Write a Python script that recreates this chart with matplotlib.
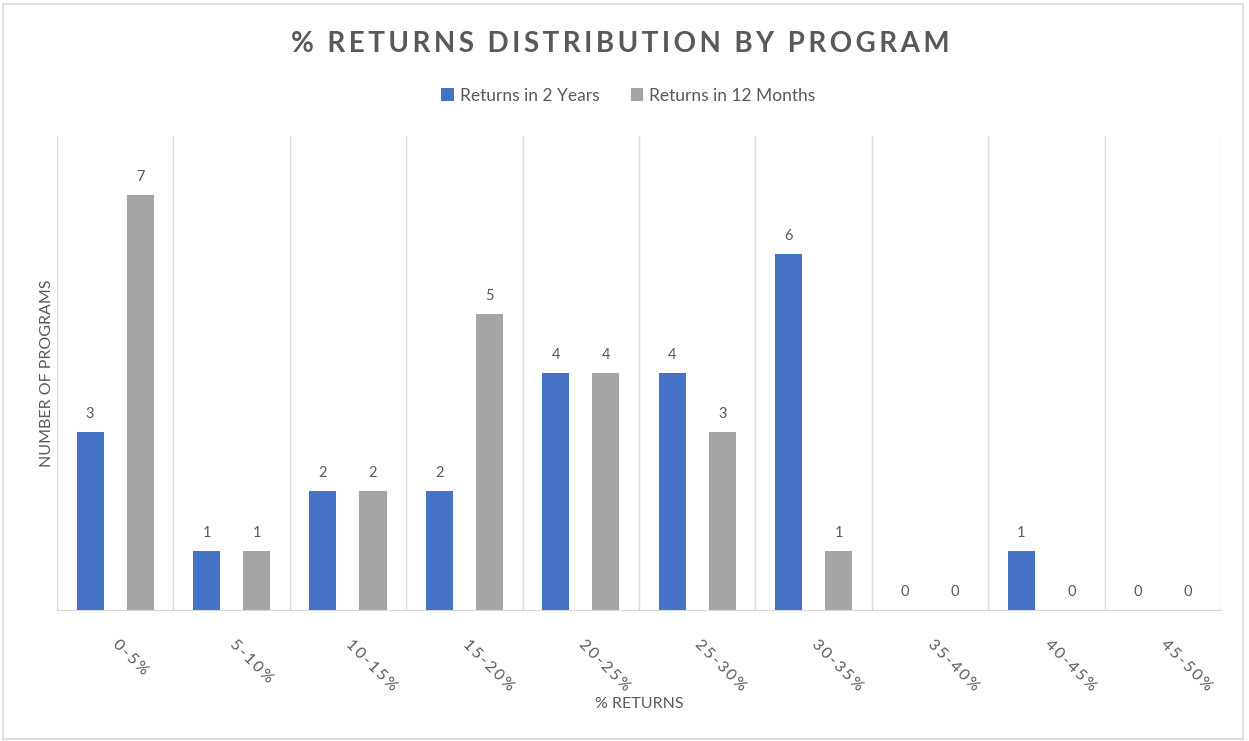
import matplotlib.pyplot as plt
from matplotlib.patches import Rectangle
import numpy as np

plt.rcParams['font.family'] = ['Lato', 'DejaVu Sans']

ranges = ["0-5%", "5-10%", "10-15%", "15-20%", "20-25%",
          "25-30%", "30-35%", "35-40%", "40-45%", "45-50%"]
returns_2y = [3, 1, 2, 2, 4, 4, 6, 0, 1, 0]
returns_12m = [7, 1, 2, 5, 4, 3, 1, 0, 0, 0]

blue = "#4472C4"
grey = "#A5A5A5"
txt = "#595959"
line = "#D9D9D9"

fig = plt.figure(figsize=(12.49, 7.41), dpi=100)
ax = fig.add_axes([0.0456, 0.1768, 0.932, 0.6397])

x = np.arange(len(ranges))
w = 0.232
b1 = ax.bar(x - 0.215, returns_2y, w, color=blue, label="Returns in 2 Years")
b2 = ax.bar(x + 0.215, returns_12m, w, color=grey, label="Returns in 12 Months")
ax.bar_label(b1, padding=8, color=txt, fontsize=10.5)
ax.bar_label(b2, padding=8, color=txt, fontsize=10.5)

ax.set_xlim(-0.5, len(ranges) - 0.5)
ax.set_ylim(0, 8)
ax.set_yticks([])

# category separators
for b in np.arange(-0.5, len(ranges), 1):
    ax.axvline(b, color=line, lw=1, zorder=0)

for s in ["top", "right", "left"]:
    ax.spines[s].set_visible(False)
ax.spines["bottom"].set_color(line)

spaced = ["\u2009".join(r) for r in ranges]
ax.set_xticks(x)
ax.set_xticklabels(spaced, rotation=-45, ha="left", va="center",
                   rotation_mode="anchor", fontsize=11.5, color=txt)
ax.tick_params(axis="x", length=0, pad=23)

ax.set_xlabel("% RETURNS", color=txt, fontsize=11.5, labelpad=2)
ax.set_ylabel("NUMBER OF PROGRAMS", color=txt, fontsize=11.5, labelpad=2)

fig.text(0.497, 0.941, "\u2009".join("% RETURNS DISTRIBUTION BY PROGRAM").replace("\u2009 \u2009", "  "),
         ha="center", va="center", fontsize=20, fontweight="bold", color=txt)

fig.legend(loc="center", bbox_to_anchor=(0.503, 0.871), ncol=2, frameon=False,
           fontsize=12.5, handlelength=0.7, handleheight=0.7, columnspacing=1.8,
           handletextpad=0.35, labelcolor=txt)

fig.add_artist(Rectangle((3 / 1249, 2 / 741), 1240 / 1249, 735 / 741,
                         transform=fig.transFigure, fill=False,
                         edgecolor=line, lw=1.2))

fig.savefig("out.png", dpi=100)
